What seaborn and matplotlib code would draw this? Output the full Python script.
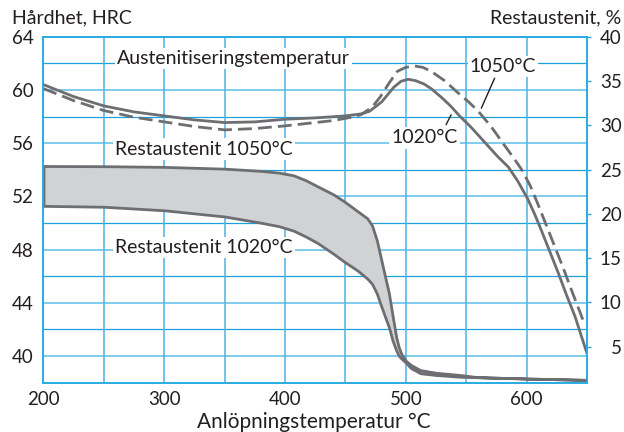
import matplotlib
matplotlib.use('Agg')
import matplotlib.pyplot as plt
import seaborn as sns
import pandas as pd
import numpy as np

# Hardness after tempering (HRC), austenitised at 1020 and 1050 C
temp_1020 = [200, 225, 250, 275, 300, 325, 350, 375, 400, 425, 450, 463, 470, 480, 490, 496, 502, 508, 515, 521,
             530, 537, 545, 554, 565, 576, 585, 593, 601, 607, 612, 619, 626, 633, 640, 650]
hrc_1020 = [60.4, 59.5, 58.8, 58.35, 58.05, 57.75, 57.55, 57.6, 57.8, 57.9, 58.05, 58.2, 58.4, 59.1, 60.2, 60.65, 60.8,
            60.7, 60.45, 60.1, 59.4, 58.8, 58.0, 57.2, 56.1, 55.0, 54.2, 53.1, 51.8, 50.6, 49.5, 47.9, 46.3, 44.6, 43.0, 40.2]

temp_1050 = [200, 225, 250, 275, 300, 325, 350, 375, 400, 425, 440, 455, 463, 472, 479, 486, 493, 500, 507, 514, 521,
             532, 543, 552, 560, 571, 582, 590, 596, 603, 609, 616, 623, 630, 637, 648]
hrc_1050 = [60.1, 59.2, 58.45, 57.95, 57.6, 57.25, 57.0, 57.1, 57.3, 57.55, 57.7, 57.95, 58.15, 58.7, 59.5, 60.5, 61.4,
            61.7, 61.8, 61.7, 61.4, 60.7, 59.8, 59.1, 58.4, 57.2, 55.8, 54.8, 54.0, 52.8, 51.5, 49.9, 48.3, 46.7, 45.0, 42.4]

# Retained austenite (%), band between 1050 C (upper) and 1020 C (lower)
temp_ra = [200, 250, 300, 350, 380, 395, 407, 417, 427, 440, 449, 460, 468, 472, 476, 479, 483, 486, 489, 492, 494, 496,
           500, 504, 512, 525, 545, 560, 600, 650]
ra_1050 = [25.4, 25.38, 25.3, 25.1, 24.85, 24.65, 24.35, 23.8, 23.1, 22.2, 21.4, 20.3, 19.5, 18.7, 17.0, 15.2, 12.8, 11.0,
           8.5, 6.1, 5.0, 4.25, 3.4, 2.95, 2.35, 2.05, 1.8, 1.55, 1.4, 1.25]
ra_1020 = [20.9, 20.8, 20.4, 19.7, 19.0, 18.6, 18.1, 17.45, 16.7, 15.5, 14.6, 13.6, 12.7, 12.1, 11.0, 9.8, 8.3, 7.2,
           5.7, 4.6, 4.0, 3.7, 3.2, 2.6, 2.0, 1.8, 1.6, 1.55, 1.4, 1.25]

x_ticks = [200, 300, 400, 500, 600]
hrc_ticks = [40, 44, 48, 52, 56, 60, 64]
ra_ticks = [5, 10, 15, 20, 25, 30, 35, 40]

sns.set_style('white')
plt.rcParams['font.family'] = ['Lato', 'DejaVu Sans']

text_col = '#231f20'
line_col = '#6d6e71'
grid_light = '#7fcbed'
grid_dark = '#1ea0dc'

df_hrc = pd.concat([
    pd.DataFrame({'temp': temp_1020, 'hrc': hrc_1020, 'aust': '1020'}),
    pd.DataFrame({'temp': temp_1050, 'hrc': hrc_1050, 'aust': '1050'}),
])

fig = plt.figure(figsize=(6.24, 4.32), dpi=100)
ax = fig.add_axes([0.0697, 0.1141, 0.8710, 0.8009])
ax2 = ax.twinx()

ax.set_xlim(200, 650)
ax.set_ylim(38, 64)
ax2.set_ylim(0.93, 40)

# grid
for v in range(38, 65, 2):
    if v in hrc_ticks:
        ax.axhline(v, color=grid_light, lw=1.4, zorder=0.5)
    else:
        ax.axhline(v, color=grid_dark, lw=0.9, zorder=0.5)
for v in range(250, 650, 50):
    ax.axvline(v, color='#4db3e6', lw=1.1, zorder=0.5)

# hardness curves
sns.lineplot(data=df_hrc, x='temp', y='hrc', style='aust', dashes={'1020': '', '1050': (5, 2.2)},
             color=line_col, linewidth=2.0, sort=False, estimator=None, ax=ax, legend=False, zorder=3)

# retained austenite band
ax2.fill_between(temp_ra, ra_1020, ra_1050, facecolor='#d1d2d4', edgecolor=line_col, linewidth=2.0, zorder=2)

# labels inside the chart
fs = 14
bb = dict(facecolor='white', edgecolor='none', pad=1.5)
ax.text(261, 62.38, 'Austenitiseringstemperatur', fontsize=fs, color=text_col, va='center', ha='left', bbox=bb, zorder=5)
ax.text(259.5, 55.56, 'Restaustenit 1050°C', fontsize=fs, color=text_col, va='center', ha='left', bbox=bb, zorder=5)
ax.text(259.5, 48.15, 'Restaustenit 1020°C', fontsize=fs, color=text_col, va='center', ha='left', bbox=bb, zorder=5)
ax.text(515.4, 56.39, '1020°C', fontsize=fs, color=text_col, va='center', ha='center', bbox=bb, zorder=5)
ax.text(580.4, 61.75, '1050°C', fontsize=fs, color=text_col, va='center', ha='center', bbox=bb, zorder=5)
ax.plot([573.5, 562.5], [60.88, 58.63], color=text_col, lw=1.0, zorder=5)
ax.plot([537.5, 533.3], [58.13, 57.39], color=text_col, lw=1.0, zorder=5)

# axes styling
ax.set_xticks(x_ticks)
ax.set_yticks(hrc_ticks)
ax2.set_yticks(ra_ticks)
ax.set_xlabel('')
ax.set_ylabel('')
ax.tick_params(axis='both', length=0, labelsize=13.5, labelcolor=text_col)
ax.tick_params(axis='x', pad=6)
ax.tick_params(axis='y', pad=7)
ax2.tick_params(axis='y', length=3, width=1, color='#29abe2', labelsize=13.5, labelcolor=text_col, pad=22)
for lab in ax2.get_yticklabels():
    lab.set_horizontalalignment('right')
for sp in list(ax.spines.values()) + list(ax2.spines.values()):
    sp.set_color('#29abe2')
    sp.set_linewidth(1.2)

fig.text(0.02, 0.958, 'Hårdhet, HRC', fontsize=14, color=text_col, va='center', ha='left')
fig.text(0.995, 0.958, 'Restaustenit, %', fontsize=14, color=text_col, va='center', ha='right')
fig.text(0.503, 0.024, 'Anlöpningstemperatur °C', fontsize=15, color=text_col, va='center', ha='center')

fig.savefig('out.png', dpi=100)
